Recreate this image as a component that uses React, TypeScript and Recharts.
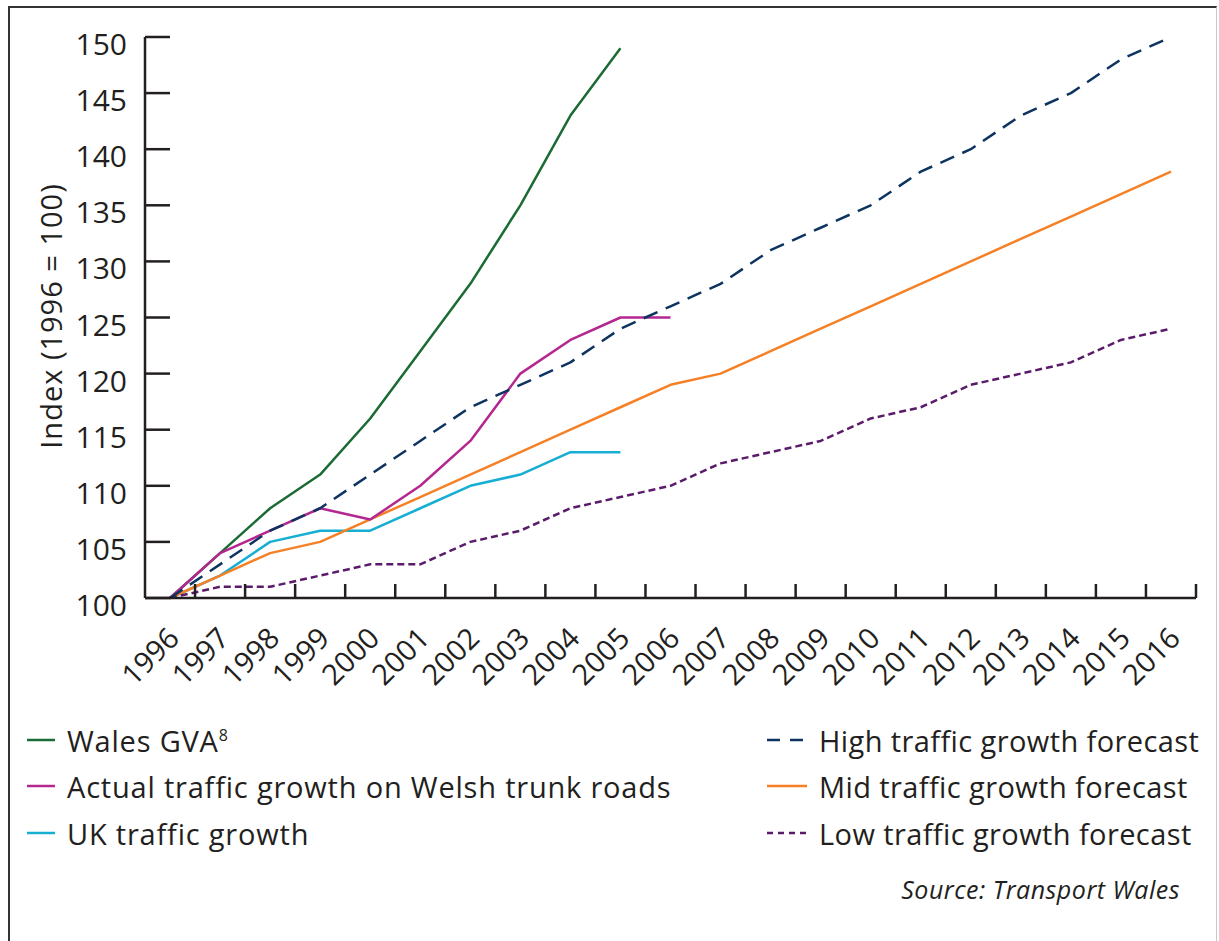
import React from 'react';
import { LineChart, Line, XAxis, YAxis } from 'recharts';

const years = [
  1996, 1997, 1998, 1999, 2000, 2001, 2002, 2003, 2004, 2005, 2006,
  2007, 2008, 2009, 2010, 2011, 2012, 2013, 2014, 2015, 2016,
];

const walesGva = [100, 104, 108, 111, 116, 122, 128, 135, 143, 149, null, null, null, null, null, null, null, null, null, null, null];
const actualWelsh = [100, 104, 106, 108, 107, 110, 114, 120, 123, 125, 125, null, null, null, null, null, null, null, null, null, null];
const ukTraffic = [100, 102, 105, 106, 106, 108, 110, 111, 113, 113, null, null, null, null, null, null, null, null, null, null, null];
const highForecast = [100, 103, 106, 108, 111, 114, 117, 119, 121, 124, 126, 128, 131, 133, 135, 138, 140, 143, 145, 148, 150];
const midForecast = [100, 102, 104, 105, 107, 109, 111, 113, 115, 117, 119, 120, 122, 124, 126, 128, 130, 132, 134, 136, 138];
const lowForecast = [100, 101, 101, 102, 103, 103, 105, 106, 108, 109, 110, 112, 113, 114, 116, 117, 119, 120, 121, 123, 124];

const yTicks = [100, 105, 110, 115, 120, 125, 130, 135, 140, 145, 150];

const data = years.map((year, i) => ({
  year,
  gva: walesGva[i],
  actual: actualWelsh[i],
  uk: ukTraffic[i],
  high: highForecast[i],
  mid: midForecast[i],
  low: lowForecast[i],
}));

// tick marks sit between the years
const boundaryTicks = years.map((y) => y + 0.5);

const FONT = '"Open Sans", sans-serif';
const INK = '#231f20';

const series = [
  { key: 'gva', color: '#1b6b34', dash: undefined },
  { key: 'uk', color: '#16aed2', dash: undefined },
  { key: 'mid', color: '#f58025', dash: undefined },
  { key: 'low', color: '#5a1b6b', dash: '7 4' },
  { key: 'actual', color: '#b4278f', dash: undefined },
  { key: 'high', color: '#0d3461', dash: '15 9' },
];

const legendLeft = [
  { label: 'Wales GVA', sup: '8', color: '#1b6b34', dash: undefined },
  { label: 'Actual traffic growth on Welsh trunk roads', color: '#b4278f', dash: undefined },
  { label: 'UK traffic growth', color: '#16aed2', dash: undefined },
];

const legendRight = [
  { label: 'High traffic growth forecast', color: '#0d3461', dash: '13 10' },
  { label: 'Mid traffic growth forecast', color: '#f58025', dash: undefined },
  { label: 'Low traffic growth forecast', color: '#5a1b6b', dash: '6 5' },
];

const NoLabel = () => <g />;

const YTick = ({ x, y, payload }: any) => (
  <text x={x} y={y + 18} textAnchor="end" fontSize={30} fontFamily={FONT} fill={INK}>
    {payload.value}
  </text>
);

const XTick = ({ x, y, payload }: any) => {
  const tx = x + 11;
  const ty = y + 41;
  return (
    <text
      x={tx}
      y={ty}
      textAnchor="end"
      transform={`rotate(-45, ${tx}, ${ty})`}
      fontSize={29}
      fontFamily={FONT}
      fill={INK}
    >
      {payload.value}
    </text>
  );
};

const LegendRow = ({ item, left, top, sampleWidth, gap, spacing }: any) => (
  <div
    style={{
      position: 'absolute',
      left,
      top: top - 22,
      height: 44,
      display: 'flex',
      alignItems: 'center',
      fontFamily: FONT,
      fontSize: 29,
      letterSpacing: spacing,
      color: INK,
      whiteSpace: 'nowrap',
    }}
  >
    <svg width={sampleWidth} height={10}>
      <line
        x1={0}
        y1={5}
        x2={sampleWidth}
        y2={5}
        stroke={item.color}
        strokeWidth={2.5}
        strokeDasharray={item.dash}
      />
    </svg>
    <span style={{ marginLeft: gap }}>
      {item.label}
      {item.sup && <sup style={{ fontSize: 16 }}>{item.sup}</sup>}
    </span>
  </div>
);

export default function App() {
  const rows = [740, 786, 833];
  return (
    <div style={{ position: 'absolute', left: 0, top: 0, width: 1219, height: 941, overflow: 'hidden', background: '#fff' }}>
      <div
        style={{
          position: 'absolute',
          left: 8,
          top: 6,
          width: 1206,
          height: 935,
          borderLeft: '2px solid #333',
          borderTop: '2px solid #333',
          borderRight: '1px solid #c8c8c8',
        }}
      />
      <div style={{ position: 'absolute', left: 0, top: 0 }}>
        <LineChart
          width={1219}
          height={700}
          data={data}
          margin={{ top: 37, right: 23, bottom: 100, left: 0 }}
        >
          <XAxis
            xAxisId="bounds"
            type="number"
            dataKey="year"
            domain={[1995.5, 2016.5]}
            ticks={boundaryTicks}
            interval={0}
            height={1}
            tick={<NoLabel />}
            tickSize={-14}
            tickLine={{ stroke: INK, strokeWidth: 2.5 }}
            axisLine={{ stroke: INK, strokeWidth: 2.5 }}
          />
          <XAxis
            xAxisId="labels"
            type="number"
            dataKey="year"
            domain={[1995.5, 2016.5]}
            ticks={years}
            interval={0}
            height={1}
            tickSize={0}
            tickMargin={0}
            tickLine={false}
            axisLine={false}
            tick={<XTick />}
          />
          <YAxis
            type="number"
            domain={[100, 150]}
            ticks={yTicks}
            interval={0}
            width={145}
            tickSize={-25}
            tickMargin={43}
            tick={<YTick />}
            tickLine={{ stroke: INK, strokeWidth: 2.5 }}
            axisLine={{ stroke: INK, strokeWidth: 2.5 }}
          />
          {series.map((s) => (
            <Line
              key={s.key}
              xAxisId="labels"
              type="linear"
              dataKey={s.key}
              stroke={s.color}
              strokeWidth={2.5}
              strokeDasharray={s.dash}
              strokeLinejoin="round"
              dot={false}
              activeDot={false}
              connectNulls={false}
              isAnimationActive={false}
            />
          ))}
        </LineChart>
      </div>
      <div
        style={{
          position: 'absolute',
          left: 50,
          top: 316,
          transform: 'translate(-50%, -50%) rotate(-90deg)',
          fontFamily: FONT,
          fontSize: 29,
          letterSpacing: 1,
          color: INK,
          whiteSpace: 'nowrap',
        }}
      >
        Index (1996 = 100)
      </div>
      {legendLeft.map((item, i) => (
        <LegendRow key={item.label} item={item} left={27} top={rows[i]} sampleWidth={28} gap={12} spacing={0.8} />
      ))}
      {legendRight.map((item, i) => (
        <LegendRow key={item.label} item={item} left={767} top={rows[i]} sampleWidth={40} gap={12} spacing={0.4} />
      ))}
      <div
        style={{
          position: 'absolute',
          right: 39,
          top: 872,
          fontFamily: FONT,
          fontStyle: 'italic',
          fontSize: 25,
          letterSpacing: 0.5,
          color: INK,
          whiteSpace: 'nowrap',
        }}
      >
        Source: Transport Wales
      </div>
    </div>
  );
}
